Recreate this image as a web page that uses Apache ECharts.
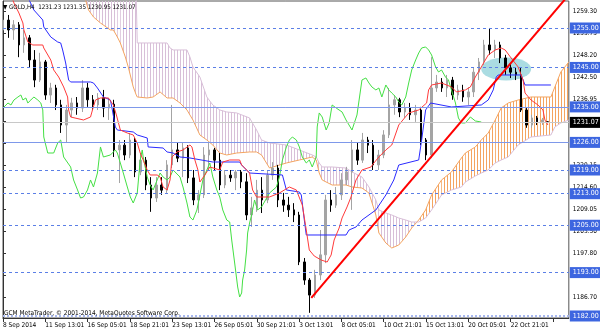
<!DOCTYPE html>
<html><head><meta charset="utf-8">
<script src="https://cdn.jsdelivr.net/npm/echarts@6/dist/echarts.min.js"></script>
<style>html,body{margin:0;padding:0;background:#fff}#c{width:600px;height:333px}</style>
</head><body><div id="c"></div>
<script>
const FONT = "'Liberation Sans Narrow','DejaVu Sans Condensed','Liberation Sans',sans-serif";
const timeLabels = ['8 Sep 2014','11 Sep 13:01','16 Sep 05:01','18 Sep 21:01','23 Sep 13:01','26 Sep 05:01','30 Sep 21:01','3 Oct 13:01','8 Oct 05:01','10 Oct 21:01','15 Oct 13:01','20 Oct 05:01','22 Oct 21:01'];
const slotCount = 108;
const yTicks = [1259.30,1253.75,1248.20,1242.50,1236.95,1231.40,1225.85,1220.15,1214.60,1209.05,1203.50,1197.80,1192.25,1186.70];
const dashedLevels = [1255,1245,1219,1213,1205,1193];
const solidLevels = [1235,1226];
const dottedLevels = [1182];
const lastPrice = 1231.07;
const header = '▼ GOLD,H4  1231.23 1231.35 1230.95 1231.07';
const footer = 'GCM MetaTrader, © 2001-2014, MetaQuotes Software Corp.';
// [open, close, low, high]
const candles = [
[1254.5,1257.0,1253.2,1258.3],[1257.0,1254.5,1252.5,1258.3],[1254.5,1255.8,1252.0,1257.0],[1255.8,1250.7,1247.6,1256.5],
[1250.7,1252.5,1248.7,1254.5],[1252.5,1246.9,1245.1,1253.2],[1246.9,1241.8,1240.0,1249.4],[1241.8,1246.4,1241.3,1248.7],
[1246.4,1238.0,1236.8,1246.9],[1238.0,1239.8,1236.0,1241.1],[1239.8,1235.5,1234.2,1240.6],[1235.5,1230.4,1228.4,1236.8],
[1230.4,1234.2,1225.9,1235.5],[1234.2,1236.0,1232.4,1237.3],[1236.0,1234.7,1233.0,1237.5],[1234.7,1239.8,1233.7,1241.8],
[1239.8,1236.8,1235.0,1241.1],[1236.8,1235.5,1234.2,1238.0],[1235.5,1237.3,1234.2,1238.5],[1237.3,1234.7,1232.4,1239.3],
[1234.7,1235.7,1231.7,1237.3],[1235.7,1224.1,1222.3,1236.8],[1224.1,1225.3,1215.7,1226.6],[1225.3,1222.8,1221.5,1226.6],
[1222.8,1226.6,1222.0,1228.4],[1226.6,1218.5,1217.2,1227.1],[1218.5,1221.5,1217.7,1223.3],[1221.5,1215.2,1213.9,1222.3],
[1215.2,1211.9,1208.4,1217.2],[1211.9,1215.2,1210.9,1217.2],[1215.2,1213.9,1212.7,1217.2],[1213.9,1220.3,1213.2,1221.5],
[1220.3,1224.1,1219.5,1235.5],[1224.1,1222.0,1221.0,1225.9],[1222.0,1224.6,1217.2,1225.9],[1224.6,1217.0,1215.7,1225.3],
[1217.0,1211.4,1210.1,1219.0],[1211.4,1212.7,1208.1,1213.9],[1212.7,1222.8,1211.9,1224.8],[1222.8,1224.1,1219.0,1225.9],
[1224.1,1221.5,1219.0,1224.6],[1221.5,1215.2,1213.9,1223.3],[1215.2,1217.7,1214.4,1219.0],[1217.7,1217.0,1216.0,1219.0],
[1217.0,1218.5,1213.9,1219.0],[1218.5,1216.0,1214.4,1219.0],[1216.0,1207.6,1206.3,1218.2],[1207.6,1209.4,1204.6,1212.2],
[1209.4,1213.9,1208.4,1216.5],[1213.9,1211.4,1208.1,1217.2],[1211.4,1217.7,1210.6,1219.0],[1217.7,1219.5,1216.5,1221.0],
[1219.5,1211.4,1209.6,1220.3],[1211.4,1210.1,1208.4,1213.2],[1210.1,1208.9,1207.1,1212.2],[1208.9,1207.6,1205.8,1210.6],
[1207.6,1195.7,1194.9,1208.4],[1195.7,1191.1,1189.9,1196.7],[1191.1,1187.3,1182.8,1191.6],[1187.3,1192.4,1186.6,1193.7],
[1192.4,1197.5,1191.1,1203.8],[1197.5,1211.4,1195.4,1212.7],[1211.4,1210.1,1208.4,1213.9],[1210.1,1212.7,1209.4,1214.7],
[1212.7,1216.5,1211.4,1218.2],[1216.5,1218.5,1215.2,1219.8],[1218.5,1224.1,1208.9,1226.6],[1224.1,1221.5,1220.3,1225.9],
[1221.5,1226.6,1220.8,1228.4],[1226.6,1225.3,1223.3,1227.4],[1225.3,1220.3,1219.0,1226.6],[1220.3,1222.8,1219.0,1224.1],
[1222.8,1227.9,1222.0,1229.1],[1227.9,1235.5,1227.1,1239.8],[1235.5,1236.8,1233.0,1238.0],[1236.8,1233.7,1232.4,1237.3],
[1233.7,1234.7,1232.2,1236.0],[1234.7,1233.0,1231.7,1236.0],[1233.0,1234.2,1231.2,1235.5],[1234.2,1226.6,1225.3,1235.0],
[1226.6,1222.8,1221.5,1227.1],[1222.8,1239.8,1222.0,1247.6],[1239.8,1241.3,1238.8,1243.1],[1241.3,1239.8,1238.8,1242.3],
[1239.8,1241.8,1237.5,1243.1],[1241.8,1238.0,1236.8,1242.6],[1238.0,1239.3,1236.8,1240.6],[1239.3,1237.5,1236.3,1240.6],
[1237.5,1238.8,1235.5,1240.0],[1238.8,1243.8,1237.5,1244.9],[1243.8,1246.4,1241.8,1247.4],[1246.4,1250.7,1245.6,1252.0],
[1250.7,1249.4,1248.2,1255.0],[1249.4,1250.7,1247.4,1252.0],[1250.7,1247.4,1246.1,1251.5],[1247.4,1244.9,1243.1,1248.2],
[1244.9,1243.8,1242.3,1246.1],[1243.8,1243.1,1241.8,1245.1],[1243.1,1234.2,1233.7,1244.9],[1234.2,1230.4,1229.7,1234.7],
[1230.4,1232.2,1229.7,1233.0],[1232.2,1231.2,1230.4,1232.7],[1231.2,1231.7,1230.4,1232.2],[1231.23,1231.07,1230.95,1231.35]
];
// Tenkan-sen (red) [slot, price]
const tenkan = [[1.5,1263.37],[2.07,1261.34],[3.01,1258.8],[3.76,1256.27],[3.95,1254.5],[4.7,1251.45],[5.64,1250.69],[7.52,1250.69],[7.71,1249.93],[9.03,1246.89],[9.59,1244.36],[10.53,1242.58],[11.47,1240.05],[12.22,1237.51],[12.41,1234.22],[12.79,1232.44],[15.23,1231.68],[16.55,1232.44],[16.92,1234.22],[17.49,1236.75],[18.43,1237.26],[19.93,1237.26],[20.87,1235.48],[21.44,1232.95],[22.19,1229.14],[23.51,1228.38],[24.63,1227.88],[25.39,1225.85],[25.95,1223.31],[26.51,1221.54],[27.27,1219.0],[27.83,1217.74],[29.15,1217.74],[29.71,1217.23],[30.27,1214.7],[31.03,1213.94],[31.59,1216.47],[31.97,1222.3],[32.91,1223.57],[34.04,1224.08],[35.35,1225.34],[35.73,1224.84],[36.29,1221.54],[36.86,1219.01],[37.23,1215.96],[38.17,1217.74],[39.11,1219.77],[40.99,1219.01],[41.56,1221.03],[42.87,1221.54],[44.75,1221.54],[45.13,1220.27],[46.63,1218.24],[47.2,1213.94],[47.95,1212.16],[50.4,1212.16],[52.27,1213.17],[54.15,1214.7],[55.47,1213.94],[56.6,1210.13],[57.35,1203.8],[57.92,1198.73],[58.86,1197.2],[60.17,1196.19],[61.3,1195.68],[62.05,1197.46],[62.62,1201.26],[63.56,1204.3],[64.12,1206.84],[65.06,1209.63],[65.81,1212.16],[66.75,1216.47],[67.88,1219.01],[69.58,1219.77],[70.14,1220.78],[71.08,1222.3],[72.4,1224.08],[73.52,1225.34],[74.84,1230.41],[76.72,1233.45],[78.61,1234.22],[80.11,1235.99],[80.48,1239.29],[81.05,1240.55],[82.93,1241.06],[84.81,1240.05],[85.75,1238.78],[87.44,1239.29],[88.38,1240.05],[89.32,1242.58],[90.45,1245.12],[91.76,1248.16],[93.08,1249.43],[94.21,1249.93],[94.96,1249.43],[96.09,1247.4],[97.41,1245.12],[98.35,1241.82],[98.72,1238.52],[99.85,1236.75],[101.17,1235.48],[102.11,1234.22],[102.48,1231.68],[103.05,1230.41]];
// Kijun-sen (blue)
const kijun = [[4.51,1263.37],[5.83,1259.57],[7.52,1257.03],[7.71,1255.26],[9.03,1252.72],[10.34,1251.45],[10.91,1251.2],[11.28,1249.43],[11.85,1246.13],[12.41,1241.82],[12.79,1241.31],[16.55,1241.31],[17.11,1241.06],[17.86,1239.79],[18.99,1237.51],[20.31,1236.75],[20.68,1234.22],[21.25,1229.91],[21.62,1229.14],[24.63,1228.64],[25.39,1227.88],[27.27,1227.12],[27.45,1224.84],[30.27,1224.58],[31.03,1223.57],[32.16,1223.31],[33.47,1222.3],[35.35,1222.05],[39.68,1221.03],[44.75,1221.03],[45.13,1220.27],[46.63,1218.24],[52.84,1217.74],[53.59,1213.94],[56.04,1213.43],[56.41,1212.67],[56.98,1206.33],[57.35,1202.53],[64.87,1202.53],[65.44,1203.8],[66.76,1204.56],[67.88,1206.33],[70.51,1208.87],[72.4,1212.67],[73.9,1216.47],[74.84,1220.27],[78.61,1221.54],[79.17,1226.61],[79.92,1234.22],[80.86,1235.99],[84.81,1234.98],[90.45,1235.48],[91.76,1236.75],[92.7,1239.29],[93.27,1242.58],[93.64,1243.09],[97.97,1243.09],[98.72,1240.55],[103.61,1240.55]];
// Chikou span (green)
const chikou = [[0,1234.72],[0.94,1235.99],[1.5,1235.48],[2.07,1236.75],[2.82,1237.51],[3.38,1238.02],[3.76,1236.75],[4.32,1237.26],[4.7,1235.99],[5.27,1236.75],[5.83,1237.51],[6.58,1236.75],[7.15,1235.99],[7.52,1234.22],[7.71,1227.37],[8.46,1223.31],[9.59,1223.31],[10.34,1225.85],[10.91,1226.61],[11.47,1222.3],[12.79,1219.77],[13.35,1216.47],[14.1,1213.94],[14.67,1211.91],[15.23,1212.16],[15.98,1213.94],[16.55,1216.47],[17.11,1214.7],[17.86,1218.24],[18.43,1224.84],[18.99,1222.3],[20.31,1222.81],[21.25,1224.08],[21.62,1223.31],[22.19,1220.78],[22.75,1218.24],[23.51,1214.7],[24.07,1212.16],[24.63,1210.64],[25.39,1213.17],[25.95,1221.54],[26.33,1224.08],[26.51,1222.3],[27.27,1217.23],[27.83,1215.2],[28.39,1213.94],[29.15,1216.47],[29.71,1218.24],[30.27,1217.23],[31.03,1216.47],[31.59,1217.23],[32.16,1219.01],[33.47,1217.23],[34.04,1214.7],[34.79,1210.64],[35.35,1207.09],[35.92,1206.33],[36.67,1208.87],[37.23,1212.67],[37.8,1216.47],[38.55,1219.01],[39.11,1220.78],[39.68,1217.23],[40.43,1213.94],[40.99,1212.16],[41.56,1208.87],[42.31,1206.33],[42.87,1205.82],[43.25,1201.26],[43.81,1195.43],[44.38,1189.35],[44.75,1186.81],[45.13,1187.83],[45.32,1191.12],[45.69,1193.66],[46.07,1198.73],[46.26,1203.04],[46.63,1205.57],[47.01,1207.6],[47.57,1211.4],[48.14,1208.87],[48.89,1209.63],[50.4,1213.17],[51.71,1214.7],[52.27,1217.23],[52.84,1221.54],[53.59,1224.84],[54.16,1226.61],[54.72,1227.37],[55.47,1226.61],[56.04,1224.84],[56.6,1222.3],[57.35,1220.78],[57.92,1221.54],[58.48,1219.77],[59.23,1222.3],[59.42,1229.91],[59.8,1233.46],[60.36,1232.44],[61.11,1229.14],[61.68,1230.92],[62.24,1235.48],[63.0,1234.72],[64.12,1233.71],[64.87,1231.68],[66.0,1229.14],[66.94,1232.95],[67.88,1241.82],[68.63,1242.33],[69.2,1241.06],[69.76,1240.05],[70.51,1239.29],[71.08,1239.79],[71.64,1237.51],[72.4,1240.55],[72.96,1239.29],[73.52,1238.52],[74.28,1237.51],[74.84,1236.24],[75.41,1235.48],[76.16,1237.51],[76.72,1241.06],[77.29,1244.36],[78.04,1246.89],[78.61,1248.66],[79.17,1249.93],[79.92,1250.19],[80.48,1249.43],[81.05,1248.16],[81.8,1245.12],[82.36,1243.85],[82.93,1244.36],[83.68,1242.58],[84.24,1241.82],[84.81,1239.29],[85.56,1235.99],[86.12,1232.19],[86.69,1230.92],[87.44,1230.92],[88.38,1232.44],[89.32,1231.43],[90.45,1231.17]];
// Kumo (cloud) samples: slot, Senkou span A, Senkou span B
const cloudX = [15.04,15.61,16.17,17.11,18.43,20.31,20.87,21.62,22.19,23.13,23.69,24.63,25.2,25.39,27.27,28.39,29.71,31.03,31.59,32.16,33.47,34.79,35.35,35.92,37.23,38.55,39.68,40.99,42.31,44.19,46.63,47.95,48.89,50.4,53.59,56.04,58.48,59.23,59.8,60.36,62.24,64.87,66.0,67.88,69.2,70.51,71.08,72.4,73.52,74.84,76.16,77.29,78.61,79.92,81.05,82.93,84.81,86.69,87.44,89.32,90.45,91.76,93.08,94.21,95.53,97.41,99.85,103.61,104.36,105.49,107];
const spanA = [1263.37,1262.1,1259.57,1257.79,1256.27,1254.5,1254.5,1252.72,1251.2,1247.65,1245.12,1240.05,1238.02,1237.51,1237.26,1237.51,1238.78,1237.26,1237.26,1237.26,1235.99,1234.22,1232.95,1231.68,1227.88,1226.61,1225.34,1223.31,1222.81,1223.31,1223.57,1223.57,1222.81,1219.51,1220.78,1221.54,1222.3,1221.54,1218.24,1216.47,1215.2,1215.2,1214.7,1214.44,1213.17,1207.6,1203.04,1200.5,1199.23,1199.99,1202.02,1204.3,1206.33,1208.87,1212.67,1216.47,1218.5,1222.05,1223.31,1224.84,1226.61,1228.38,1231.68,1234.72,1235.99,1236.75,1237.51,1237.51,1240.05,1243.85,1246.38];
const spanB = [1276.04,1274.78,1273.51,1272.24,1270.97,1269.71,1268.44,1267.17,1265.9,1264.64,1263.37,1262.61,1262.1,1251.2,1251.2,1251.2,1251.2,1251.2,1249.93,1249.43,1249.43,1249.43,1247.65,1245.12,1242.58,1237.51,1235.48,1234.22,1233.71,1233.46,1232.19,1229.14,1226.61,1225.85,1225.34,1224.08,1222.81,1222.3,1220.78,1219.77,1219.77,1219.51,1218.5,1217.23,1214.7,1211.4,1208.87,1208.11,1207.6,1206.84,1206.33,1205.82,1205.82,1206.84,1208.87,1212.67,1213.94,1214.7,1215.96,1217.49,1218.24,1219.01,1220.78,1221.54,1222.3,1225.34,1227.37,1227.88,1229.91,1230.92,1231.68];
// trend line and highlight ellipse
const trendLine = [[58.3,1186.6],[107,1263.4]];
const highlight = [[95.15,1244.61]];

const categories = Array.from({length: slotCount}, (_, i) => String(i));

function hatch(color) {
  const c = document.createElement('canvas');
  c.width = 3; c.height = 2;
  const ctx = c.getContext('2d');
  ctx.fillStyle = color; ctx.fillRect(0, 0, 1, 2);
  return {image: c, repeat: 'repeat'};
}
const orangePat = hatch('#F4A460');
const thistlePat = hatch('#D8BFD8');

function renderCloud(params, api) {
  const i = params.dataIndex;
  if (i >= cloudX.length - 1) return null;
  const x0 = cloudX[i], x1 = cloudX[i+1];
  const a0 = spanA[i], a1 = spanA[i+1], b0 = spanB[i], b1 = spanB[i+1];
  const d0 = a0 - b0, d1 = a1 - b1;
  const children = [];
  const poly = (pts, up) => children.push({type: 'polygon', silent: true,
    shape: {points: pts.map(p => api.coord(p))}, style: {fill: up ? orangePat : thistlePat}});
  if (d0 * d1 < 0) {
    const t = d0 / (d0 - d1);
    const xc = x0 + t * (x1 - x0), yc = a0 + t * (a1 - a0);
    poly([[x0,a0],[xc,yc],[x0,b0]], d0 > 0);
    poly([[xc,yc],[x1,a1],[x1,b1]], d1 > 0);
  } else {
    poly([[x0,a0],[x1,a1],[x1,b1],[x0,b0]], (d0 + d1) > 0);
  }
  return {type: 'group', children};
}

const levelLabel = (bg) => ({show: true, position: 'end', distance: 1, formatter: p => p.value.toFixed(2),
  color: '#fff', backgroundColor: bg, padding: [2, 2, 1, 3], fontSize: 7, fontFamily: FONT, lineHeight: 8});
const markData = [];
dashedLevels.forEach(v => markData.push({yAxis: v, lineStyle: {color: '#5b7fe6', type: [3, 3], width: 1}, label: levelLabel('#3d66e0')}));
solidLevels.forEach(v => markData.push({yAxis: v, lineStyle: {color: '#7e98ea', type: 'solid', width: 1}, label: levelLabel('#3d66e0')}));
dottedLevels.forEach(v => markData.push({yAxis: v, lineStyle: {color: '#a8b8f0', type: [2, 2], width: 2}, label: levelLabel('#3d66e0')}));
markData.push({yAxis: lastPrice, lineStyle: {color: '#c8c8c8', type: 'solid', width: 1}, label: levelLabel('#000')});

const chart = echarts.init(document.getElementById('c'), null, {renderer: 'canvas'});
chart.setOption({
  animation: false,
  backgroundColor: '#fff',
  title: [
    {text: header, left: 3, top: 4, padding: 0, textStyle: {fontSize: 6.2, fontWeight: 'normal', color: '#000', fontFamily: FONT}},
    {text: footer, left: 4, top: 310, padding: 0, textStyle: {fontSize: 6.5, fontWeight: 'normal', color: '#000', fontFamily: FONT}}
  ],
  grid: {left: 2, right: 29, top: 1, bottom: 15, show: true, borderColor: '#555', borderWidth: 1, backgroundColor: 'transparent'},
  xAxis: [
    {type: 'category', data: categories, boundaryGap: false, position: 'bottom',
      axisLine: {lineStyle: {color: '#333'}},
      axisTick: {interval: i => i % 8 === 0, length: 4, lineStyle: {color: '#333'}},
      axisLabel: {interval: 0, align: 'left', margin: 4, fontSize: 6.5, color: '#000', fontFamily: FONT,
        formatter: (v, i) => (i % 8 === 0 && timeLabels[i / 8]) ? timeLabels[i / 8] : ''},
      splitLine: {show: false}},
    {type: 'value', min: 0, max: slotCount - 1, show: false, splitLine: {show: false}}
  ],
  yAxis: {type: 'value', position: 'right', min: 1181.49, max: 1261.84, scale: true,
    axisLine: {show: true, lineStyle: {color: '#333'}},
    axisTick: {show: true, length: 3, customValues: yTicks, lineStyle: {color: '#333'}},
    axisLabel: {customValues: yTicks, margin: 4, fontSize: 6.5, color: '#000', fontFamily: FONT, formatter: v => v.toFixed(2)},
    splitLine: {show: false}},
  series: [
    {type: 'custom', name: 'Kumo', xAxisIndex: 1, clip: true, z: 1, silent: true,
      data: cloudX.map((x, i) => [x, spanA[i], spanB[i]]), encode: {x: 0, y: [1, 2]}, renderItem: renderCloud},
    {type: 'line', name: 'Senkou A', xAxisIndex: 1, data: cloudX.map((x, i) => [x, spanA[i]]), showSymbol: false, clip: true, z: 2,
      lineStyle: {color: '#F4A460', width: 1}},
    {type: 'line', name: 'Senkou B', xAxisIndex: 1, data: cloudX.map((x, i) => [x, spanB[i]]), showSymbol: false, clip: true, z: 2,
      lineStyle: {color: '#D8BFD8', width: 1}},
    {type: 'scatter', name: 'Highlight', xAxisIndex: 1, data: highlight, symbol: 'circle', symbolSize: [50, 23], z: 2, silent: true,
      itemStyle: {color: 'rgba(104,192,204,0.7)'}},
    {type: 'candlestick', name: 'GOLD,H4', data: candles, barWidth: 2, z: 3,
      itemStyle: {color: '#a4a4a4', color0: '#000', borderColor: '#a4a4a4', borderColor0: '#000', borderWidth: 1},
      markLine: {silent: true, symbol: 'none', animation: false, precision: 2, data: markData}},
    {type: 'line', name: 'Chikou', xAxisIndex: 1, data: chikou, showSymbol: false, clip: true, z: 4, lineStyle: {color: '#44e044', width: 1}},
    {type: 'line', name: 'Kijun', xAxisIndex: 1, data: kijun, showSymbol: false, clip: true, z: 4, lineStyle: {color: '#2a2aff', width: 1}},
    {type: 'line', name: 'Tenkan', xAxisIndex: 1, data: tenkan, showSymbol: false, clip: true, z: 4, lineStyle: {color: '#ff3a3a', width: 1}},
    {type: 'line', name: 'Trend', xAxisIndex: 1, data: trendLine, showSymbol: false, clip: true, z: 5, lineStyle: {color: '#ff0000', width: 2}}
  ]
});
</script></body></html>
